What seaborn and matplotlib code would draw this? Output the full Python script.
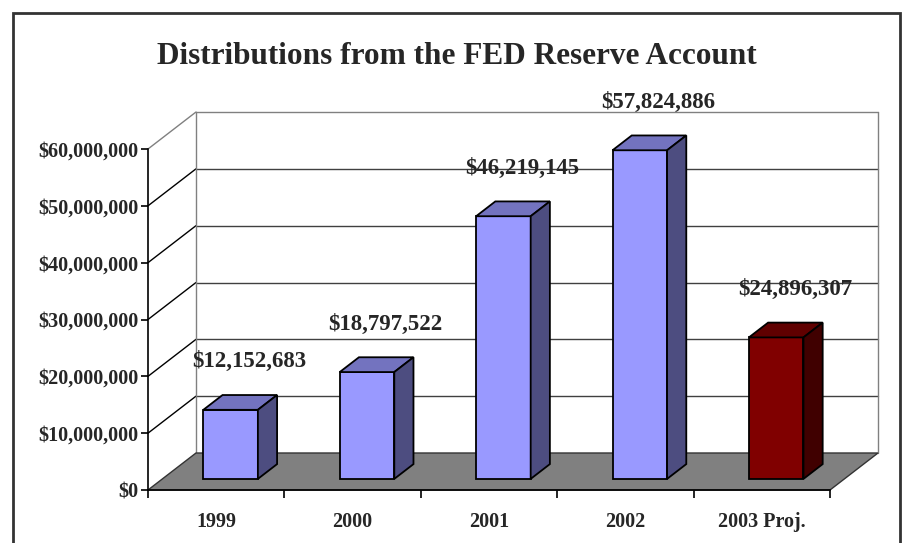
import matplotlib
matplotlib.use("Agg")
import matplotlib.pyplot as plt
import seaborn as sns
from matplotlib.patches import Polygon, Rectangle
from matplotlib.lines import Line2D
from matplotlib.transforms import IdentityTransform, offset_copy
from matplotlib.ticker import FuncFormatter

# Data
years = ["1999", "2000", "2001", "2002", "2003 Proj."]
amounts = [12152683, 18797522, 46219145, 57824886, 24896307]
y_ticks = [0, 10000000, 20000000, 30000000, 40000000, 50000000, 60000000]

# Colours (front / top / side faces)
front_colors = ["#9999FF", "#9999FF", "#9999FF", "#9999FF", "#800000"]
top_colors = ["#7373BF", "#7373BF", "#7373BF", "#7373BF", "#600000"]
side_colors = ["#4D4D80", "#4D4D80", "#4D4D80", "#4D4D80", "#400000"]

sns.set_theme(style="white")
plt.rcParams["font.family"] = ["Liberation Serif", "DejaVu Serif"]
plt.rcParams["font.weight"] = "bold"

W, H = 913, 543
fig = plt.figure(figsize=(W / 100, H / 100), dpi=100)
fig.patch.set_facecolor("white")
ax = fig.add_axes([148 / W, (H - 490) / H, 682 / W, 341 / H])
ax.patch.set_visible(False)

# depth of the 3d box, in pixels
DX, DY = 48, 37
F0, F1 = 0.3, 0.7

sns.barplot(x=years, y=amounts, hue=years, palette=front_colors, legend=False,
            width=0.4, saturation=1, edgecolor="black", linewidth=1.3,
            zorder=3, ax=ax)
ax.set_xlim(-0.5, len(years) - 0.5)
ax.set_ylim(0, y_ticks[-1])


def disp(x, y, f=0.0):
    px, py = ax.transData.transform((x, y))
    return (px + f * DX, py + f * DY)


def poly(pts, fc, ec, lw=1.0, z=1):
    ax.add_patch(Polygon(pts, closed=True, facecolor=fc, edgecolor=ec, linewidth=lw,
                         transform=IdentityTransform(), clip_on=False, zorder=z))


def line(p, q, color, lw=1.0, z=0.8):
    ax.add_line(Line2D([p[0], q[0]], [p[1], q[1]], color=color, linewidth=lw,
                       transform=IdentityTransform(), clip_on=False, zorder=z))


x_lo, x_hi = -0.5, len(years) - 0.5

# floor
poly([disp(x_lo, 0), disp(x_hi, 0), disp(x_hi, 0, 1), disp(x_lo, 0, 1)],
     "#808080", "#333333", lw=1.0, z=1)

# back wall and side wall grid
for v in y_ticks[1:]:
    c = "#808080" if v == y_ticks[-1] else "#404040"
    line(disp(x_lo, v, 1), disp(x_hi, v, 1), c)
    line(disp(x_lo, v), disp(x_lo, v, 1), "#808080" if v == y_ticks[-1] else "black")
line(disp(x_lo, 0, 1), disp(x_lo, y_ticks[-1], 1), "#808080")
line(disp(x_hi, 0, 1), disp(x_hi, y_ticks[-1], 1), "#808080")

# 3d bars
front_shift = offset_copy(ax.transData, fig, x=F0 * DX, y=F0 * DY, units="dots")
for patch, tc, sc in zip(ax.patches[:len(years)], top_colors, side_colors):
    patch.set_transform(front_shift)
    x0 = patch.get_x()
    x1 = x0 + patch.get_width()
    h = patch.get_height()
    poly([disp(x0, h, F0), disp(x1, h, F0), disp(x1, h, F1), disp(x0, h, F1)],
         tc, "black", lw=1.3, z=3)
    poly([disp(x1, 0, F0), disp(x1, h, F0), disp(x1, h, F1), disp(x1, 0, F1)],
         sc, "black", lw=1.3, z=3)

# value labels
for i, v in enumerate(amounts):
    ax.annotate(f"${v:,.0f}", xy=(i, v), xytext=(33, 59), textcoords="offset pixels",
                ha="center", va="center", fontsize=16.5, fontweight="bold",
                annotation_clip=False, zorder=5)

# axes styling
for s in ["top", "right"]:
    ax.spines[s].set_visible(False)
for s in ["left", "bottom"]:
    ax.spines[s].set_color("black")
    ax.spines[s].set_linewidth(1.2)

ax.set_yticks(y_ticks)
ax.yaxis.set_major_formatter(FuncFormatter(lambda v, p: f"${v:,.0f}"))
ax.tick_params(axis="y", left=True, length=5, width=1.2, color="black",
               labelsize=14.5, pad=2)
ax.set_xticks(range(len(years)))
ax.set_xticklabels(years)
ax.set_xticks([i - 0.5 for i in range(len(years) + 1)], minor=True)
ax.tick_params(axis="x", which="major", bottom=True, length=0, labelsize=14.5, pad=16)
ax.tick_params(axis="x", which="minor", bottom=True, length=6, width=1.2, color="black")
for lab in ax.get_xticklabels() + ax.get_yticklabels():
    lab.set_fontweight("bold")
ax.set_xlabel("")
ax.set_ylabel("")

fig.text(0.5, 1 - 56 / H, "Distributions from the FED Reserve Account",
         ha="center", va="center", fontsize=22.5, fontweight="bold")

# chart frame
fig.add_artist(Rectangle((13 / W, -0.1), (900 - 13) / W, 1 - 13 / H + 0.1,
                         transform=fig.transFigure, fill=False,
                         edgecolor="#333333", linewidth=2))

fig.savefig("out.png", dpi=100)
